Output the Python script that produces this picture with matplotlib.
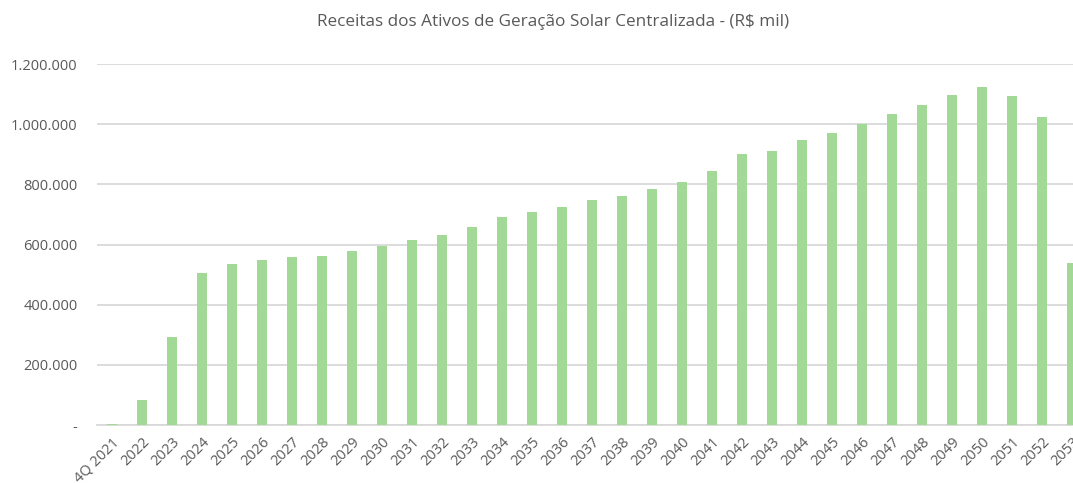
import matplotlib
matplotlib.use("Agg")
import matplotlib.pyplot as plt
from matplotlib.ticker import FuncFormatter

categories = ["4Q 2021"] + [str(y) for y in range(2022, 2054)]
revenues = [3000, 84000, 293000, 505000, 535000, 548000, 558000, 562000, 579000, 595000,
            614000, 633000, 659000, 691000, 707000, 726000, 747000, 761000, 783000, 809000,
            845000, 900000, 912000, 948000, 971000, 1001000, 1033000, 1064000, 1097000,
            1124000, 1095000, 1023000, 539000]
yticks = [0, 200000, 400000, 600000, 800000, 1000000, 1200000]
title = "Receitas dos Ativos de Geração Solar Centralizada - (R$ mil)"

plt.rcParams['font.family'] = ['Open Sans', 'DejaVu Sans']
text_color = "#595959"
bar_color = "#A2D997"
grid_color = "#D9D9D9"

fig = plt.figure(figsize=(10.73, 4.83), dpi=100)
ax = fig.add_axes([97/1073, 1 - 425/483, 990/1073, (425 - 64)/483])

x = list(range(len(categories)))
ax.bar(x, revenues, width=0.32, color=bar_color, zorder=3)
ax.set_xlim(-0.5, len(categories) - 0.5)
ax.set_ylim(0, 1200000)
ax.set_yticks(yticks)

def fmt(v, pos):
    if v == 0:
        return "-"
    return f"{int(v):,}".replace(",", ".")

ax.yaxis.set_major_formatter(FuncFormatter(fmt))
ax.set_xticks(x)
ax.set_xticklabels(categories, rotation=45, ha='right', rotation_mode='anchor')
ax.tick_params(axis='both', length=0, labelsize=10.5, colors=text_color)
ax.tick_params(axis='y', pad=14)
ax.tick_params(axis='x', pad=7)
ax.grid(axis='y', color=grid_color, linewidth=1.3, zorder=0)
for s in ['top', 'right', 'left']:
    ax.spines[s].set_visible(False)
ax.spines['bottom'].set_color(grid_color)
ax.spines['bottom'].set_linewidth(1.3)

fig.text(553/1073, 1 - 22/483, title, ha='center', va='center', fontsize=12.3, color=text_color)

fig.savefig("out.png", dpi=100)
